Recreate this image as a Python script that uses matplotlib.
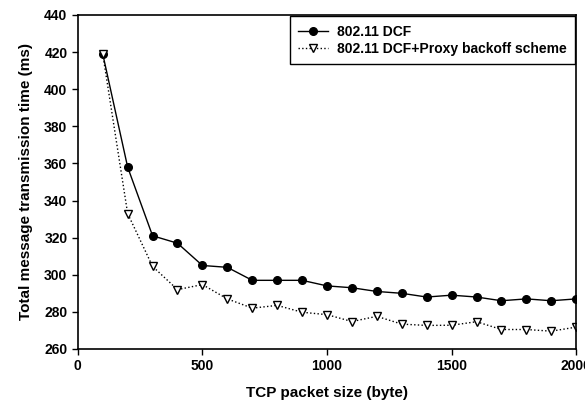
import matplotlib
matplotlib.use("Agg")
import matplotlib.pyplot as plt

plt.rcParams['font.family'] = ['Liberation Sans', 'DejaVu Sans']

packet_size = [100, 200, 300, 400, 500, 600, 700, 800, 900, 1000,
               1100, 1200, 1300, 1400, 1500, 1600, 1700, 1800, 1900, 2000]
dcf = [419, 358, 321, 317, 305, 304, 297, 297, 297, 294,
       293, 291, 290, 288, 289, 288, 286, 287, 286, 287]
proxy = [419, 333, 304.5, 292, 294.7, 287, 282, 283.5, 279.8, 278.5,
         274.8, 277.6, 273.4, 272.7, 272.8, 274.7, 270.5, 270.5, 269.6, 271.8]

fig = plt.figure(figsize=(5.85, 4.03), dpi=100)
ax = fig.add_axes([0.133, 0.134, 0.852, 0.829])

ax.plot(packet_size, dcf, '-', color='black', lw=1.0, marker='o', ms=5.5,
        mfc='black', mec='black', label='802.11 DCF')
ax.plot(packet_size, proxy, ':', color='black', lw=1.0, marker='v', ms=6,
        mfc='white', mec='black', mew=1.0, label='802.11 DCF+Proxy backoff scheme')

ax.set_xlim(0, 2000)
ax.set_ylim(260, 440)
ax.set_xticks([0, 500, 1000, 1500, 2000])
ax.set_yticks(range(260, 441, 20))
ax.tick_params(direction='out', length=4, width=1, labelsize=10)
for lab in ax.get_xticklabels() + ax.get_yticklabels():
    lab.set_fontweight('bold')
for s in ax.spines.values():
    s.set_linewidth(1.2)

ax.set_xlabel('TCP packet size (byte)', fontsize=11, fontweight='bold', labelpad=9)
ax.set_ylabel('Total message transmission time (ms)', fontsize=11, fontweight='bold', labelpad=8)

leg = ax.legend(loc='upper right', prop={'weight': 'bold', 'size': 10},
                frameon=True, fancybox=False, edgecolor='black', framealpha=1,
                borderaxespad=0.1, handlelength=2.2, labelspacing=0.25,
                borderpad=0.6, handletextpad=0.6)
leg.get_frame().set_linewidth(1.0)

fig.savefig('out.png', dpi=100)
